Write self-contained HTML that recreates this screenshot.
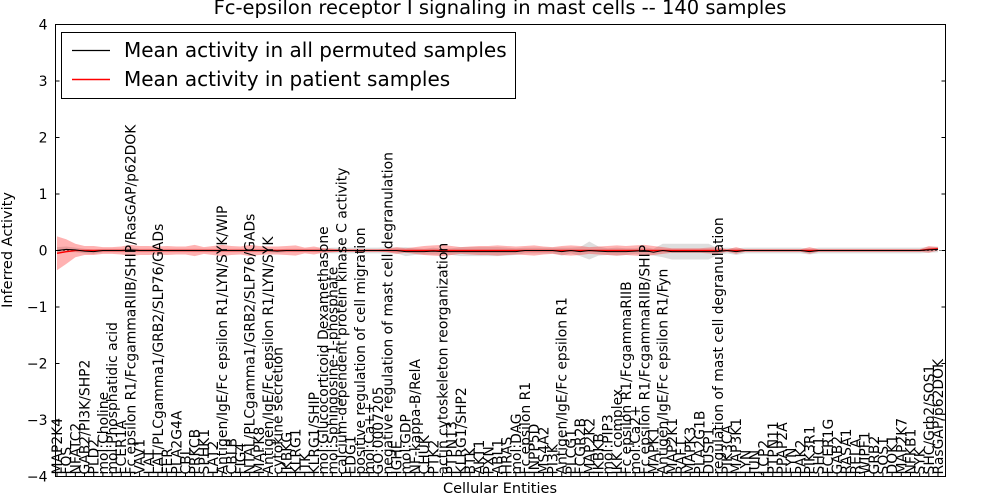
<!DOCTYPE html>
<html><head><meta charset="utf-8"><style>
body{margin:0;background:#fff;}
svg{display:block;font-family:"DejaVu Sans","Liberation Sans",sans-serif;}
</style></head><body>
<svg id="chart" width="1000" height="500" viewBox="0 0 1000 500">
<rect x="0" y="0" width="1000" height="500" fill="#fff"/>
<g id="plot"></g>
</svg>
<script>
const labels=["MAP2K4","FOS","NFATC2","GAB2/PI3K/SHP2","PLD2","mol:Choline","mol:Phosphatidic acid","FCER1A","Fc epsilon R1/FcgammaRIIB/SHIP/RasGAP/p62DOK","VAV1","LAT","LAT/PLCgamma1/GRB2/SLP76/GADs","FER","PLA2G4A","CBL","PRKCB","SPHK1","LAT2","Antigen/IgE/Fc epsilon R1/LYN/SYK/WIP","CBLB","FIG4","NTAL/PLCgamma1/GRB2/SLP76/GADs","MAPK8","Antigen/IgE/Fc epsilon R1/LYN/SYK","cytokine secretion","IKBKG","KLRG1","ITK","KLRG1/SHIP","mol:Glucocorticoid Dexamethasone","mol:Sphingosine-1-phosphate","calcium-dependent protein kinase C activity","EDG1","positive regulation of cell migration","mol:Ca++","GO:0007205","negative regulation of mast cell degranulation","IGHE","mol:GDP","NF-kappa-B/RelA","CHUK","PTK2","actin cytoskeleton reorganization","PTPN13","KLRG1/SHP2","BTK","AKT1","PXN","ABL1","HRAS","mol:DAG","Fc epsilon R1","INPP5D","MS4A2","PI3K","Antigen/IgE/Fc epsilon R1","PLCG1","FCGR2B","MAP2K2","IKBKB","mol:PIP3","IKK complex","Fc epsilon R1/FcgammaRIIB","mol:Ca2+","Fc epsilon R1/FcgammaRIIB/SHIP","MAPK1","Antigen/IgE/Fc epsilon R1/Fyn","MAP2K1","RAF1","MAPK3","PLA2G1B","DUSP1","regulation of mast cell degranulation","PIK3CA","MAP3K1","LYN","JUN","LCP2","PTPN11","PPAP2A","FYN","PAK2","PIK3R1","SHC1","FCER1G","GAB2","RASA1","RELA","WIPF1","GRB2","SOS1","DOK1","MAP2K7","NFKB1","SYK","SHC/Grb2/SOS1","RasGAP/p62DOK"];
const meanPermuted=[0,0.02,0.01,-0.01,-0.02,0,0,0,0.01,0, 0,0,0,0,0,0,0,0,0,0, 0,0,0,0,-0.01,0,0,0,0,0, 0,0,0,0,0,0,0,0,-0.02,-0.02, -0.02,-0.01,-0.02,-0.02,-0.02,-0.02,-0.02,-0.02,-0.02,-0.02, -0.02,0,0,0,0,-0.02,0,-0.02,0,-0.01, -0.02,-0.02,-0.02,-0.01,0,-0.03,0,-0.02,-0.02,-0.02, -0.02,-0.02,-0.02,0,-0.02,0,0,0,0,0, 0,0,-0.02,0,0,0,0,0,0,0, 0,0,0,0,0,0.01,0.02];
const meanPatient=[-0.05,-0.02,0,0,0,0,0,0,0,0, 0,0,0,0,0,0,0,0,0,0, 0,0,0,0,0,0,0,0,0,0, 0,0,0,0,0,0,0,0,0,0, 0,0,0,0,0,0,0,0,0,0, 0,0,0,0,0,0,0,0,0,0, 0,0,0,0,0,0,0,0,0,0, 0,0,0,0,0,0,0,0,0,0, 0,0,0,0,0,0,0,0,0,0, 0,0,0,0,0,0.02,0.03];
const spreadPatient=[0.3,0.22,0.12,0.08,0.08,0.06,0.06,0.07,0.1,0.08, 0.08,0.07,0.08,0.07,0.07,0.1,0.06,0.08,0.1,0.08, 0.07,0.1,0.08,0.07,0.07,0.08,0.09,0.05,0.07,0.04, 0.03,0.02,0.02,0.02,0.02,0.02,0.03,0.06,0.04,0.06, 0.08,0.09,0.1,0.08,0.06,0.07,0.08,0.08,0.09,0.08, 0.07,0.08,0.09,0.07,0.06,0.08,0.09,0.08,0.06,0.07, 0.08,0.09,0.08,0.09,0.1,0.08,0.06,0.04,0.04,0.04, 0.04,0.05,0.06,0.02,0.06,0.02,0.02,0.02,0.02,0.02, 0.02,0.02,0.06,0.02,0.02,0.02,0.02,0.02,0.02,0.02, 0.02,0.02,0.02,0.02,0.02,0.06,0.03];
const spreadPermuted=[0.06,0.05,0.04,0.04,0.04,0.03,0.03,0.03,0.04,0.03, 0.03,0.03,0.03,0.03,0.03,0.03,0.03,0.03,0.03,0.03, 0.03,0.03,0.03,0.03,0.03,0.03,0.03,0.03,0.03,0.04, 0.05,0.05,0.05,0.05,0.05,0.05,0.06,0.05,0.08,0.06, 0.05,0.06,0.05,0.06,0.08,0.08,0.08,0.08,0.08,0.07, 0.06,0.05,0.05,0.05,0.05,0.07,0.05,0.08,0.16,0.08, 0.06,0.07,0.06,0.05,0.06,0.06,0.12,0.14,0.14,0.14, 0.14,0.14,0.06,0.05,0.06,0.05,0.05,0.05,0.05,0.05, 0.05,0.05,0.05,0.05,0.05,0.05,0.05,0.05,0.05,0.05, 0.05,0.05,0.05,0.05,0.05,0.05,0.05];
const yTicks=[-4,-3,-2,-1,0,1,2,3,4];

const NS="http://www.w3.org/2000/svg";
const L=55.5,R=945.5,T=24.5,B=476.5;
const yMin=-4,yMax=4;
const xS=i=>57+i*(938-57)/(labels.length-1);
const yS=v=>B-(v-yMin)/(yMax-yMin)*(B-T);
const g=document.getElementById('plot');
function mk(tag,attrs,parent){const e=document.createElementNS(NS,tag);for(const k in attrs)e.setAttribute(k,attrs[k]);(parent||g).appendChild(e);return e;}
function band(mean,spr){let up=mean.map((m,i)=>xS(i)+","+yS(m+spr[i]));let dn=mean.map((m,i)=>xS(i)+","+yS(m-spr[i])).reverse();return up.concat(dn).join(" ");}
function line(mean){return mean.map((m,i)=>xS(i)+","+yS(m)).join(" ");}

let e;
e=mk('polygon',{points:band(meanPermuted,spreadPermuted),fill:'#000','fill-opacity':0.13,stroke:'none'});


e=mk('polygon',{points:band(meanPatient,spreadPatient),fill:'#ff0000','fill-opacity':0.3,stroke:'none'});


e=mk('line',{x1:L,x2:R,y1:yS(0),y2:yS(0),stroke:'#000','stroke-dasharray':'1,3','stroke-width':1});


e=mk('polyline',{points:line(meanPatient),fill:'none',stroke:'#ff0000','stroke-width':1.4});


e=mk('polyline',{points:line(meanPermuted),fill:'none',stroke:'#000','stroke-width':1});



labels.forEach((lb,i)=>{
  const x=xS(i);
  const t=mk('text',{x:0,y:0,transform:`translate(${x+5},${B-2}) rotate(-90)`,'font-size':13.9,fill:'#000'});
  t.textContent=lb;
  
  
  const tk=mk('line',{x1:x,x2:x,y1:B,y2:B-4,stroke:'#000'});
  
  
});

yTicks.forEach(v=>{
  const y=yS(v);
  const a=mk('line',{x1:L,x2:L+4,y1:y,y2:y,stroke:'#000'});
  
  
  const b=mk('line',{x1:R,x2:R-4,y1:y,y2:y,stroke:'#000'});
  
  
  const t=mk('text',{x:L-8,y:y+5,'text-anchor':'end','font-size':14,fill:'#000'});
  t.textContent=(v<0?'\u2212'+(-v):String(v));
  
  
});

e=mk('rect',{x:L,y:T,width:R-L,height:B-T,fill:'none',stroke:'#000','stroke-width':1});



e=mk('text',{x:500,y:14,'text-anchor':'middle','font-size':19.5,fill:'#000'});
e.textContent='Fc-epsilon receptor I signaling in mast cells -- 140 samples';


e=mk('text',{x:500,y:493,'text-anchor':'middle','font-size':14.5,fill:'#000'});
e.textContent='Cellular Entities';


e=mk('text',{x:0,y:0,transform:'translate(12,250) rotate(-90)','text-anchor':'middle','font-size':14.5,fill:'#000'});
e.textContent='Inferred Activity';



const lg=mk('g',{});


mk('rect',{x:61.5,y:32.5,width:454,height:66,fill:'#fff',stroke:'#000'},lg);
mk('line',{x1:72,x2:110,y1:50.5,y2:50.5,stroke:'#000','stroke-width':1.2},lg);
mk('line',{x1:72,x2:110,y1:79.5,y2:79.5,stroke:'#ff0000','stroke-width':1.5},lg);
e=mk('text',{x:124,y:57,'font-size':20,fill:'#000'},lg);
e.textContent='Mean activity in all permuted samples';


e=mk('text',{x:124,y:86,'font-size':20,fill:'#000'},lg);
e.textContent='Mean activity in patient samples';


</script>
</body></html>
